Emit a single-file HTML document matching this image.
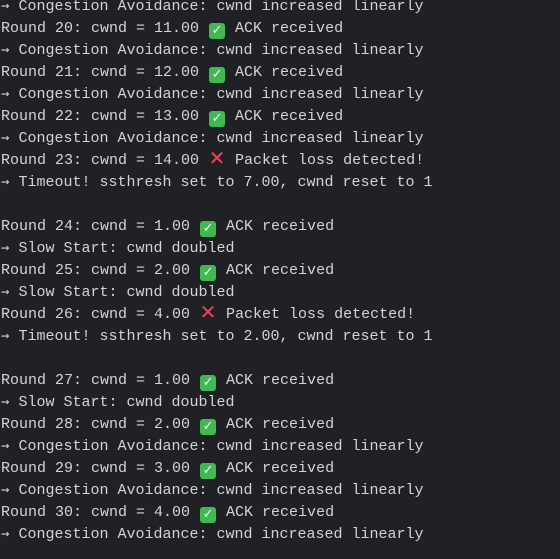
<!DOCTYPE html>
<html><head><style>
html,body{margin:0;padding:0;background:#1f2124;width:560px;height:559px;overflow:hidden}
#t{position:absolute;left:1px;top:-4px;font-family:"Liberation Mono","DejaVu Sans Mono",monospace;font-size:15px;color:#d4d4d4;white-space:normal}
#t div{height:22px;line-height:22px;overflow:visible;white-space:pre}
.ok{display:inline-block;width:16px;height:16px;background:#3fb950;border-radius:3px;color:#fff;font-size:13px;line-height:16px;text-align:center;vertical-align:-2px;margin:0 1px;font-weight:bold;font-family:"DejaVu Sans",sans-serif}
.no{display:inline-block;width:18px;height:16px;text-align:center;color:#f0435a;font-weight:bold;font-size:20px;font-family:"DejaVu Sans",sans-serif;line-height:16px;vertical-align:-1px}
.a{font-family:"DejaVu Sans Mono",monospace;font-size:14px;line-height:10px}
</style></head><body>
<div id="t">
<div><span class="a">→</span> Congestion Avoidance: cwnd increased linearly</div>
<div>Round 20: cwnd = 11.00 <span class="ok">✓</span> ACK received</div>
<div><span class="a">→</span> Congestion Avoidance: cwnd increased linearly</div>
<div>Round 21: cwnd = 12.00 <span class="ok">✓</span> ACK received</div>
<div><span class="a">→</span> Congestion Avoidance: cwnd increased linearly</div>
<div>Round 22: cwnd = 13.00 <span class="ok">✓</span> ACK received</div>
<div><span class="a">→</span> Congestion Avoidance: cwnd increased linearly</div>
<div>Round 23: cwnd = 14.00 <span class="no">✕</span> Packet loss detected!</div>
<div><span class="a">→</span> Timeout! ssthresh set to 7.00, cwnd reset to 1</div>
<div> </div>
<div>Round 24: cwnd = 1.00 <span class="ok">✓</span> ACK received</div>
<div><span class="a">→</span> Slow Start: cwnd doubled</div>
<div>Round 25: cwnd = 2.00 <span class="ok">✓</span> ACK received</div>
<div><span class="a">→</span> Slow Start: cwnd doubled</div>
<div>Round 26: cwnd = 4.00 <span class="no">✕</span> Packet loss detected!</div>
<div><span class="a">→</span> Timeout! ssthresh set to 2.00, cwnd reset to 1</div>
<div> </div>
<div>Round 27: cwnd = 1.00 <span class="ok">✓</span> ACK received</div>
<div><span class="a">→</span> Slow Start: cwnd doubled</div>
<div>Round 28: cwnd = 2.00 <span class="ok">✓</span> ACK received</div>
<div><span class="a">→</span> Congestion Avoidance: cwnd increased linearly</div>
<div>Round 29: cwnd = 3.00 <span class="ok">✓</span> ACK received</div>
<div><span class="a">→</span> Congestion Avoidance: cwnd increased linearly</div>
<div>Round 30: cwnd = 4.00 <span class="ok">✓</span> ACK received</div>
<div><span class="a">→</span> Congestion Avoidance: cwnd increased linearly</div>
</div>
</body></html>
